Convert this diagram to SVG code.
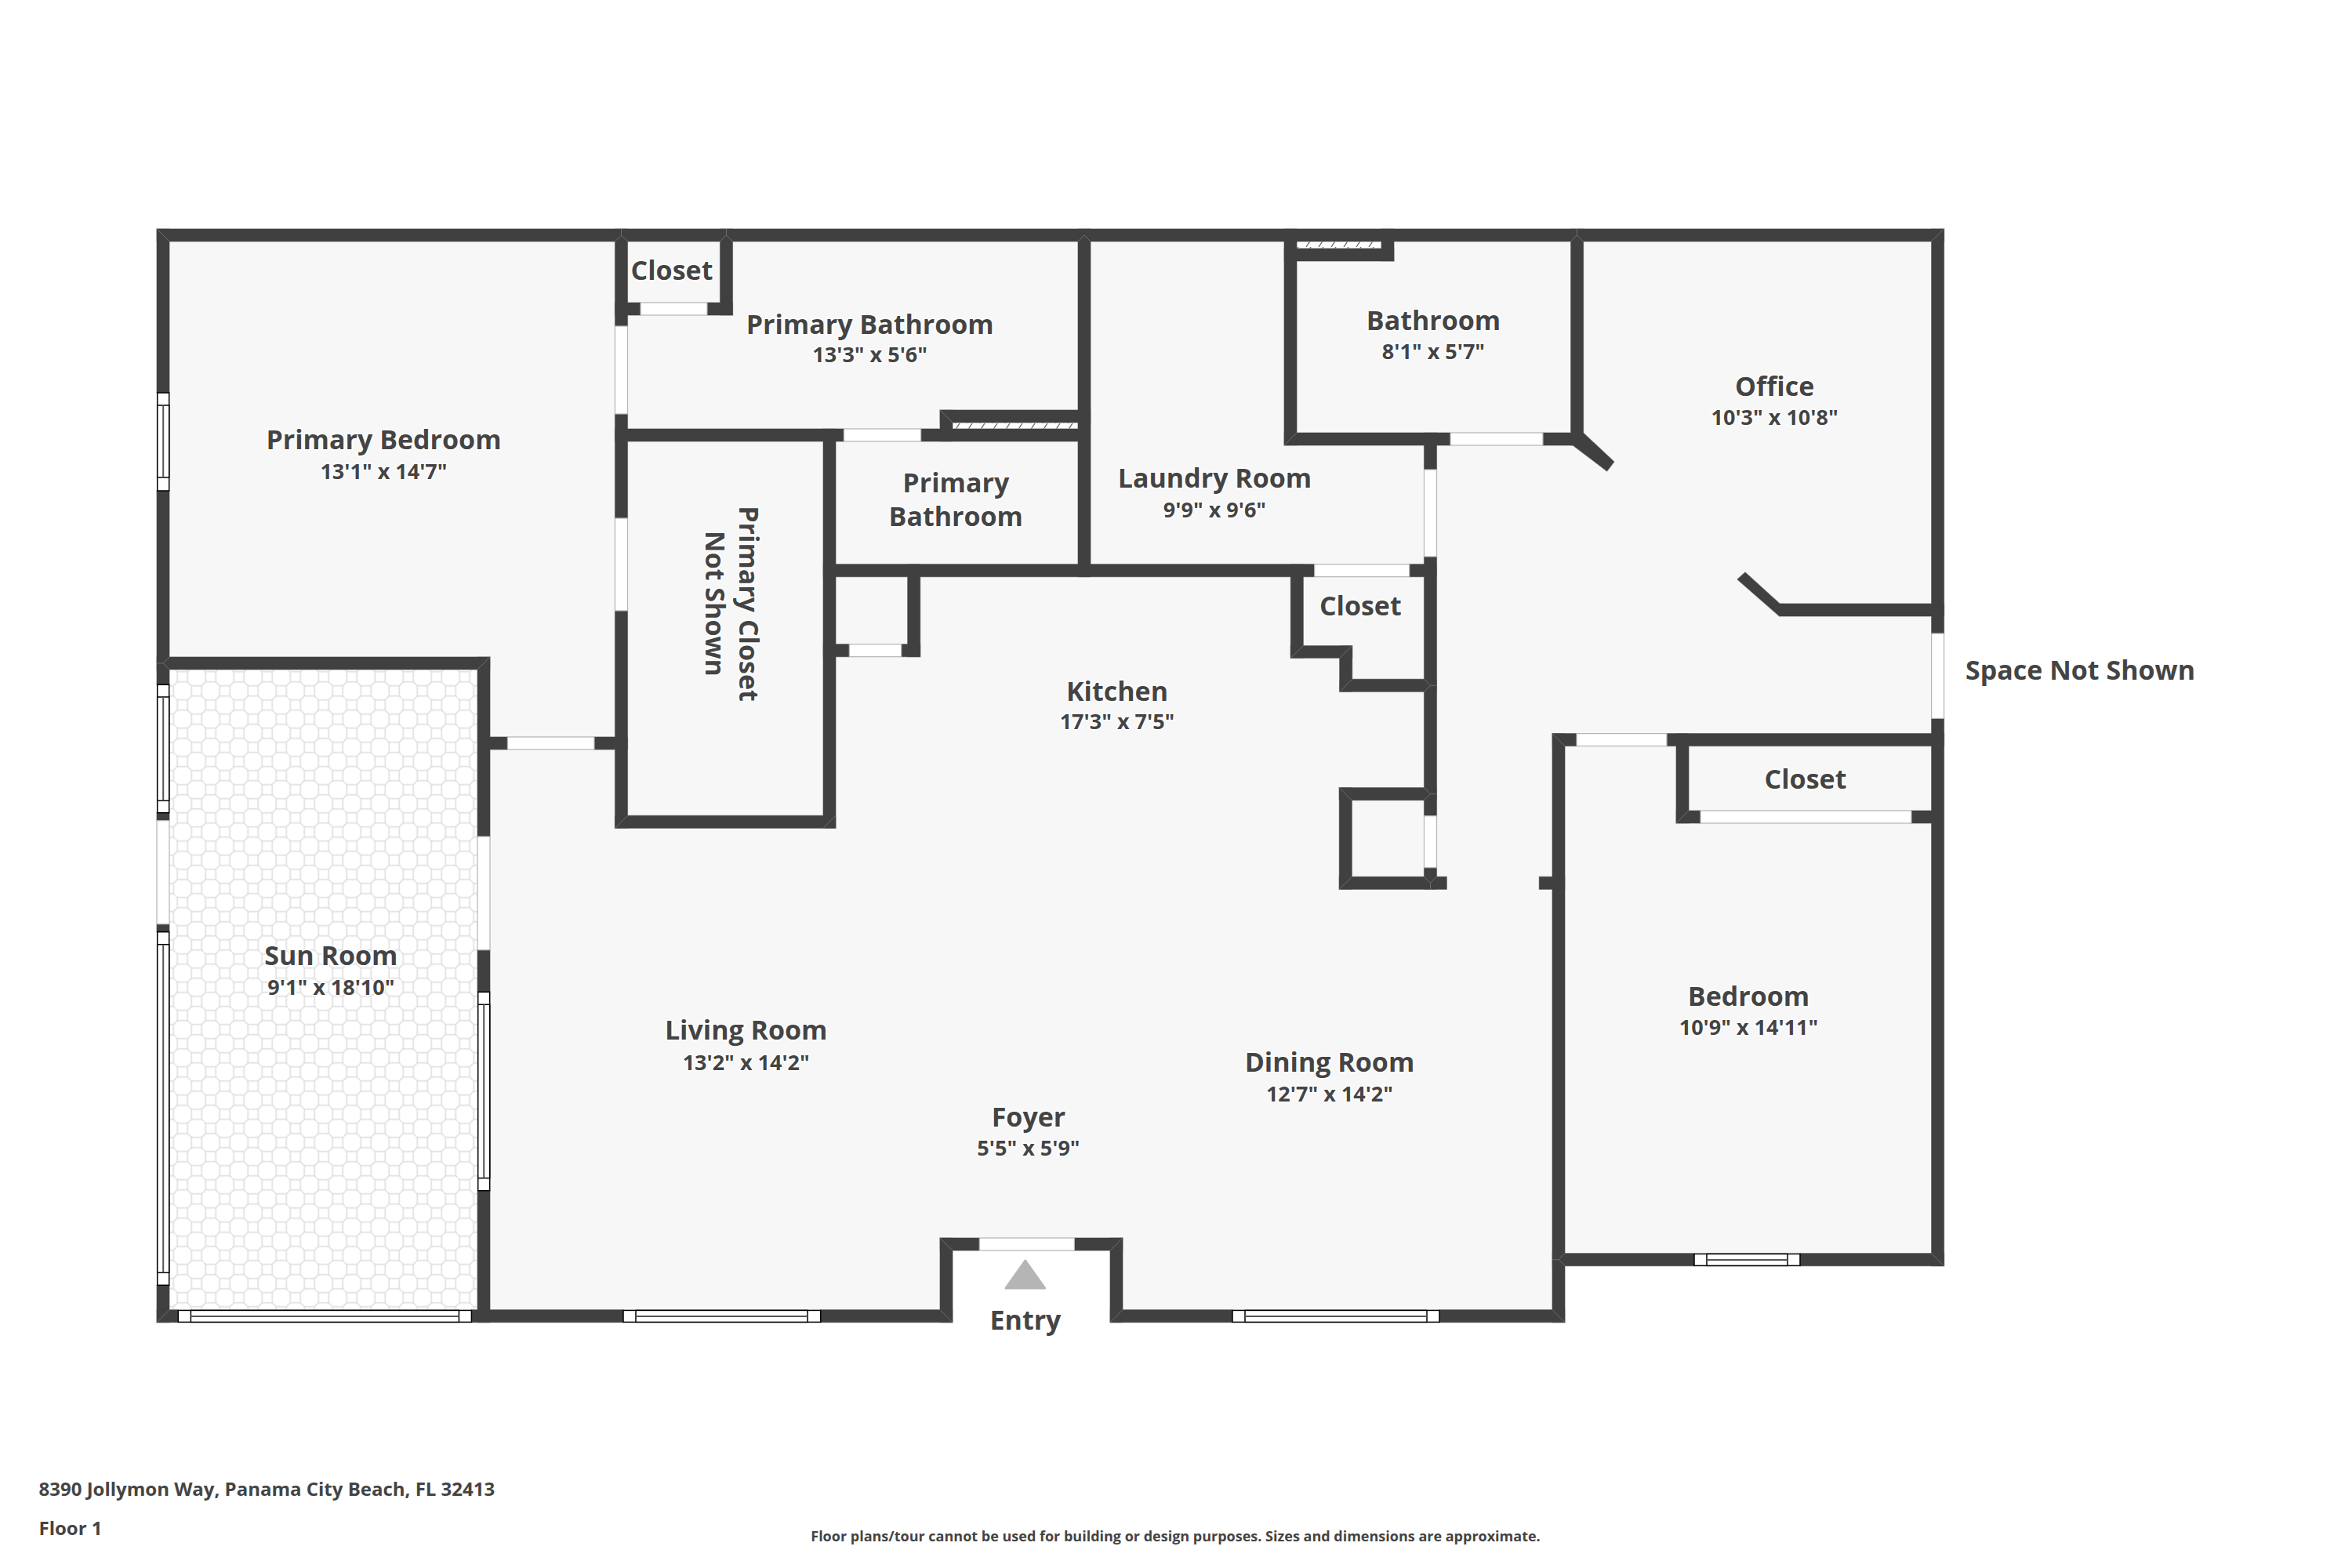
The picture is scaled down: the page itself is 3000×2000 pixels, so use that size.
<svg xmlns="http://www.w3.org/2000/svg" width="3000" height="2000" viewBox="0 0 3000 2000">
<style>
text{font-family:"Open Sans","Noto Sans","Liberation Sans",sans-serif;font-weight:700;fill:#444444;text-anchor:middle;paint-order:stroke;stroke:#ffffff;stroke-width:3px;stroke-linejoin:round}
.t{font-size:34px}
.d{font-size:27px}
.a{font-size:24px;text-anchor:start;stroke:none}
.n{font-size:18px;stroke:none}
.wall rect,.wall polygon{fill:#404040}
.door{fill:#ffffff;stroke:#b4b4b4;stroke-width:1.2}
.win{fill:#ffffff;stroke:#000000;stroke-width:1.5}
.mid{stroke:#555555;stroke-width:2}
.seam{fill:none;stroke:#777777;stroke-width:.8}
</style>
<defs>
<pattern id="tile" patternUnits="userSpaceOnUse" x="223.7" y="890.3" width="36" height="36">
<g fill="none" stroke="#dedede" stroke-width="1.6">
<rect x="2.5" y="2.5" width="13" height="13"/>
<rect x="20.5" y="20.5" width="13" height="13"/>
<path d="M15.5 15.5L20.5 20.5M15.5 2.5L20.5 -2.5M15.5 38.5L20.5 33.5M2.5 15.5L-2.5 20.5M38.5 15.5L33.5 20.5M2.5 2.5L-2.5 -2.5M38.5 38.5L33.5 33.5"/>
</g>
</pattern>
<pattern id="hatch" patternUnits="userSpaceOnUse" x="0" y="0" width="16" height="9">
<path d="M2 9L8 0" stroke="#666666" stroke-width="1.3" fill="none"/>
</pattern>
<g id="wallset" class="wall">
<rect x="200" y="292" width="2279.6" height="16"/>
<rect x="200" y="292" width="16" height="209"/>
<rect x="200" y="626" width="16" height="247.3"/>
<rect x="200" y="1036.7" width="16" height="10"/>
<rect x="200" y="1178.7" width="16" height="10"/>
<rect x="200" y="1639.3" width="16" height="47.4"/>
<rect x="200" y="1670.7" width="27.3" height="16"/>
<rect x="601.4" y="1670.7" width="193.6" height="16"/>
<rect x="1046.7" y="1670.7" width="168.3" height="16"/>
<rect x="1416" y="1670.7" width="156" height="16"/>
<rect x="1836" y="1670.7" width="160" height="16"/>
<rect x="1199" y="1579" width="16" height="107.7"/>
<rect x="1416" y="1579" width="16" height="107.7"/>
<rect x="1199" y="1579" width="50.3" height="16"/>
<rect x="1370.4" y="1579" width="61.6" height="16"/>
<rect x="1980" y="935.6" width="16" height="751.1"/>
<rect x="1980" y="1598.7" width="181" height="16"/>
<rect x="2296" y="1598.7" width="183.6" height="16"/>
<rect x="2463.6" y="292" width="16" height="516"/>
<rect x="2463.6" y="916.4" width="16" height="698.3"/>
<rect x="1980" y="935.6" width="31" height="16"/>
<rect x="2126" y="935.6" width="353.6" height="16"/>
<rect x="2138" y="935.6" width="16" height="114.4"/>
<rect x="2138" y="1034" width="31" height="16"/>
<rect x="2438" y="1034" width="30" height="16"/>
<rect x="784.5" y="292" width="16" height="124"/>
<rect x="784.5" y="528" width="16" height="133"/>
<rect x="784.5" y="779" width="16" height="277.3"/>
<rect x="784.5" y="1040.3" width="281.5" height="16"/>
<rect x="1050" y="547" width="16" height="509.3"/>
<rect x="784.5" y="386" width="32.5" height="16"/>
<rect x="902" y="386" width="32.5" height="16"/>
<rect x="918.5" y="292" width="16" height="110"/>
<rect x="784.5" y="547" width="291.9" height="16"/>
<rect x="1174.6" y="547" width="208.4" height="16"/>
<rect x="1199" y="523" width="192" height="16"/>
<rect x="1199" y="523" width="16" height="40"/>
<rect x="1375" y="292" width="16" height="443.7"/>
<rect x="1050" y="719.7" width="626.7" height="16"/>
<rect x="1797.7" y="719.7" width="34.6" height="16"/>
<rect x="1157.7" y="719.7" width="16" height="118"/>
<rect x="1050" y="821.7" width="33.3" height="16"/>
<rect x="1149.7" y="821.7" width="24" height="16"/>
<rect x="1638" y="292" width="16" height="276"/>
<rect x="1638" y="552" width="212" height="16"/>
<rect x="1968" y="552" width="51.4" height="16"/>
<rect x="2003.6" y="292" width="16" height="276"/>
<rect x="1638" y="317" width="140" height="16"/>
<rect x="1762" y="292" width="16" height="41"/>
<rect x="1816.5" y="552" width="16" height="47"/>
<rect x="1816.5" y="710" width="16" height="330.7"/>
<rect x="1816.5" y="1106.7" width="16" height="27.6"/>
<rect x="1646.3" y="719.7" width="16" height="119.6"/>
<rect x="1646.3" y="823.7" width="78.4" height="15.6"/>
<rect x="1708.7" y="823.7" width="16" height="58.6"/>
<rect x="1708.7" y="866.3" width="123.6" height="16"/>
<rect x="1708.3" y="1004.7" width="124" height="16"/>
<rect x="1708.3" y="1004.7" width="16" height="129.6"/>
<rect x="1708.3" y="1118.3" width="137" height="16"/>
<rect x="1963.3" y="1118.3" width="32.7" height="16"/>
<rect x="625" y="940" width="22.4" height="16"/>
<rect x="758" y="940" width="42.5" height="16"/>
<rect x="200" y="838" width="425" height="16"/>
<rect x="609" y="838" width="16" height="229"/>
<rect x="609" y="1211.7" width="16" height="53.6"/>
<rect x="609" y="1518.7" width="16" height="168"/>
<rect x="2270" y="770" width="209.6" height="16"/>
<polygon points="2003.6,566 2019.4,552 2058.8,589 2049.7,601"/>
<polygon points="2226,730 2216,739 2269.7,786 2275,770 2270,770"/>
</g>
</defs>

<g id="floor">
<polygon fill="#f7f7f7" points="200,292 2479.6,292 2479.6,1614.7 1996,1614.7 1996,1686.7 1416,1686.7 1416,1595 1215,1595 1215,1686.7 200,1686.7"/>
<rect x="216" y="854" width="393" height="817" fill="#ffffff"/>
<rect x="216" y="854" width="393" height="817" fill="url(#tile)"/>
<rect x="1215" y="539" width="160" height="8" fill="#ffffff"/>
<rect x="1215" y="539" width="160" height="8" fill="url(#hatch)"/>
<rect x="1654" y="308" width="108" height="9" fill="#ffffff"/>
<rect x="1654" y="308" width="108" height="9" fill="url(#hatch)"/>
</g>

<g id="walls">
<use href="#wallset" stroke="#9a9a9a" stroke-width="1.2"/>
<use href="#wallset"/>
<path class="seam" d="M200 292L216 308M2479.6 292L2463.6 308M2479.6 1614.7L2463.6 1598.7M200 1686.7L216 1670.7M792.5 292V300L784.5 308M792.5 300L800.5 308M926.5 292V300L918.5 308M926.5 300L934.5 308M1383 300L1375 308M1383 300L1391 308M2011.5 292V300L2003.6 308M2011.5 300L2019.4 308M1199 523L1215 539M625 838L609 854M200 846H208L216 838M208 846L216 854M784.5 1056.3L800.5 1040.3M1980 935.6L1996 951.7M2138 1050L2154 1034M1199 1579L1215 1595M1432 1579L1416 1595M1199 1670.7L1215 1686.7M1432 1670.7L1416 1686.7M1980 1670.7L1996 1686.7M1980 1606.7H1988L1996 1598.7M1988 1606.7L1996 1614.7M1708.3 1004.7L1724.3 1020.7M1708.3 1134.3L1724.3 1118.3M1646.3 839.3L1662.3 823.7M1708.7 882.3L1724.7 866.3M1708.7 839.3L1724.7 823.7M1824.5 874.3H1832.3M1816.5 866.3L1824.5 874.3L1816.5 882.3M1824.5 1012.7H1832.3M1816.5 1004.7L1824.5 1012.7L1816.5 1020.7M1824.5 1126.3V1134.3M1816.5 1118.3L1824.5 1126.3L1832.3 1118.3M1638 568L1654 552M1050 1056.3L1066 1040.3"/>
</g>

<g id="doors">
<rect class="door" x="817" y="386" width="85" height="16"/>
<rect class="door" x="784.5" y="416" width="16" height="112"/>
<rect class="door" x="784.5" y="661" width="16" height="118"/>
<rect class="door" x="1076.4" y="547" width="98.2" height="16"/>
<rect class="door" x="1676.7" y="719.7" width="121" height="16"/>
<rect class="door" x="1083.3" y="821.7" width="66.4" height="16"/>
<rect class="door" x="647.4" y="940" width="110.6" height="16"/>
<rect class="door" x="1850" y="552" width="118" height="16"/>
<rect class="door" x="1816.5" y="599" width="16" height="111"/>
<rect class="door" x="1816.5" y="1040.7" width="16" height="66"/>
<rect class="door" x="2463.6" y="808" width="16" height="108.4"/>
<rect class="door" x="2011" y="935.6" width="115" height="16"/>
<rect class="door" x="2169" y="1034" width="269" height="16"/>
<rect class="door" x="1249.3" y="1579" width="121.1" height="16"/>
<rect class="door" x="609" y="1067" width="16" height="144.7"/>
<rect class="door" x="200" y="1046.7" width="16" height="132"/>
</g>

<g id="windows">
<rect class="win" x="200.7" y="501" width="15" height="125"/><rect class="win" x="200.7" y="517" width="15" height="92"/><line class="mid" x1="208.2" y1="517" x2="208.2" y2="609"/>
<rect class="win" x="200.7" y="873.3" width="15" height="163.4"/><rect class="win" x="200.7" y="889" width="15" height="132.3"/><line class="mid" x1="208.2" y1="889" x2="208.2" y2="1021.3"/>
<rect class="win" x="200.7" y="1188.7" width="15" height="450.6"/><rect class="win" x="200.7" y="1204.7" width="15" height="418.6"/><line class="mid" x1="208.2" y1="1204.7" x2="208.2" y2="1623.3"/>
<rect class="win" x="609.7" y="1265.3" width="15" height="253.4"/><rect class="win" x="609.7" y="1281.3" width="15" height="221.4"/><line class="mid" x1="617.2" y1="1281.3" x2="617.2" y2="1502.7"/>
<rect class="win" x="227.3" y="1671.4" width="374.1" height="15"/><rect class="win" x="243.4" y="1671.4" width="342" height="15"/><line class="mid" x1="243.4" y1="1679" x2="585.4" y2="1679"/>
<rect class="win" x="795" y="1671.4" width="251.7" height="15"/><rect class="win" x="811" y="1671.4" width="219" height="15"/><line class="mid" x1="811" y1="1679" x2="1030" y2="1679"/>
<rect class="win" x="1572" y="1671.4" width="264" height="15"/><rect class="win" x="1588" y="1671.4" width="232" height="15"/><line class="mid" x1="1588" y1="1679" x2="1820" y2="1679"/>
<rect class="win" x="2161" y="1599.4" width="135" height="15"/><rect class="win" x="2177" y="1599.4" width="103" height="15"/><line class="mid" x1="2177" y1="1607" x2="2280" y2="1607"/>
</g>

<polygon id="entry-arrow" points="1307.8,1608 1283,1643 1332.6,1643" fill="#b5b5b5" stroke="#b5b5b5" stroke-width="3" stroke-linejoin="round"/>

<g id="labels">
<text class="t" x="489.5" y="573">Primary Bedroom</text>
<text class="d" x="489.5" y="611">13'1" x 14'7"</text>
<text class="t" x="857" y="357">Closet</text>
<text class="t" x="1109.7" y="425.5">Primary Bathroom</text>
<text class="d" x="1109.7" y="462">13'3" x 5'6"</text>
<text class="t" x="1219.3" y="627.5">Primary</text>
<text class="t" x="1219.3" y="670.5">Bathroom</text>
<text class="t" x="1549.5" y="622">Laundry Room</text>
<text class="d" x="1549.5" y="659.5">9'9" x 9'6"</text>
<text class="t" x="1828.5" y="420.5">Bathroom</text>
<text class="d" x="1828.5" y="457.5">8'1" x 5'7"</text>
<text class="t" x="2263.6" y="504.5">Office</text>
<text class="d" x="2263.6" y="542">10'3" x 10'8"</text>
<text class="t" x="1735.3" y="785">Closet</text>
<text class="t" style="text-anchor:start" x="2507" y="866.5">Space Not Shown</text>
<text class="t" x="2303" y="1006">Closet</text>
<text class="t" x="2230.5" y="1282.5">Bedroom</text>
<text class="d" x="2230.5" y="1319.5">10'9" x 14'11"</text>
<text class="t" x="422.4" y="1231">Sun Room</text>
<text class="d" x="422.4" y="1268.5">9'1" x 18'10"</text>
<text class="t" x="1425" y="893.5">Kitchen</text>
<text class="d" x="1425" y="930">17'3" x 7'5"</text>
<text class="t" x="951.7" y="1326">Living Room</text>
<text class="d" x="951.7" y="1364.5">13'2" x 14'2"</text>
<text class="t" x="1696" y="1366.5">Dining Room</text>
<text class="d" x="1696" y="1404.5">12'7" x 14'2"</text>
<text class="t" x="1312" y="1437">Foyer</text>
<text class="d" x="1312" y="1473.5">5'5" x 5'9"</text>
<text class="t" x="1308" y="1696">Entry</text>
<text class="t" transform="translate(943.3 770) rotate(90)">Primary Closet</text>
<text class="t" transform="translate(900 770) rotate(90)">Not Shown</text>
<text class="a" x="49.5" y="1908.3">8390 Jollymon Way, Panama City Beach, FL 32413</text>
<text class="a" x="49.5" y="1958">Floor 1</text>
<text class="n" x="1499.5" y="1966">Floor plans/tour cannot be used for building or design purposes. Sizes and dimensions are approximate.</text>
</g>
</svg>
